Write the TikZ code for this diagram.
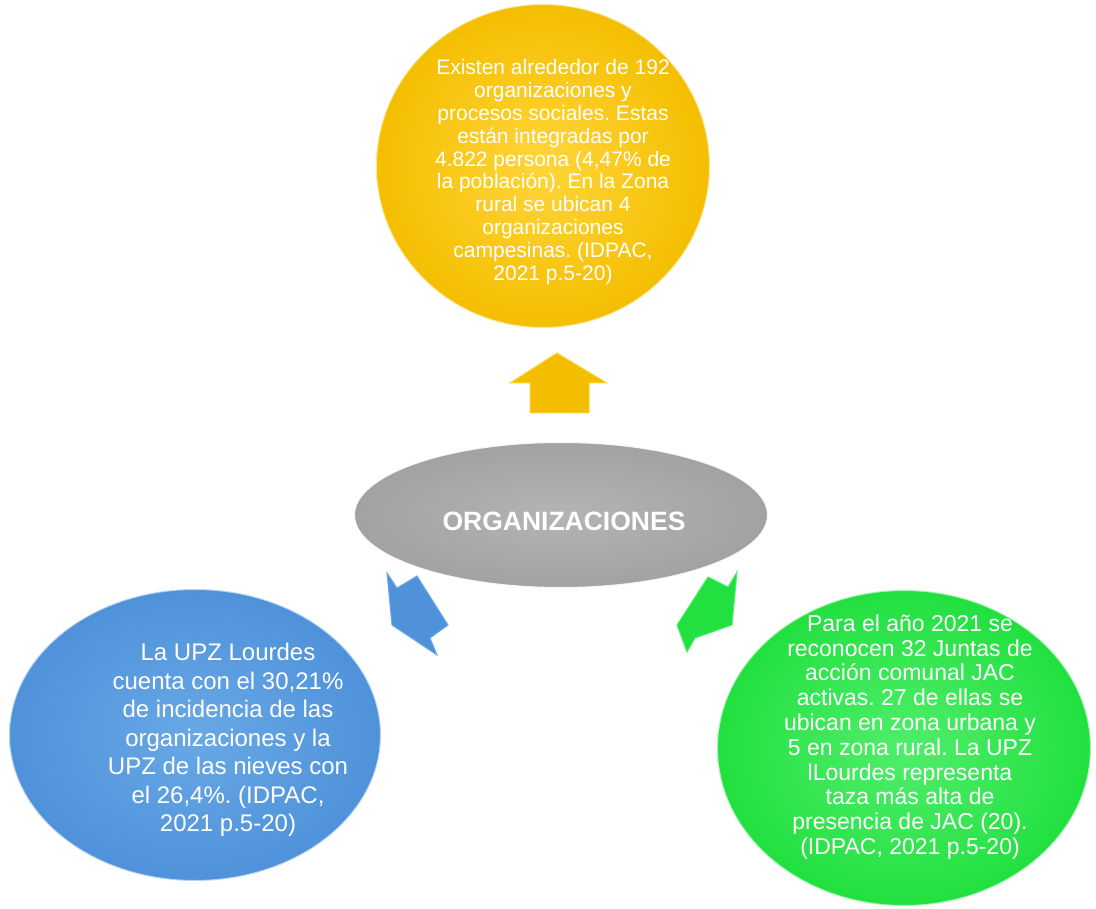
\documentclass[tikz,border=0pt]{standalone}
\usepackage{fontspec}
\setmainfont{Liberation Sans}
\usetikzlibrary{shapes.geometric}
\definecolor{yel}{HTML}{F4BE00}
\definecolor{yellight}{HTML}{FFD53A}
\definecolor{blu}{HTML}{4F92DA}
\definecolor{blulight}{HTML}{68A8E6}
\definecolor{grn}{HTML}{22E040}
\definecolor{grnlight}{HTML}{50EE6A}
\definecolor{gry}{HTML}{A2A2A2}
\definecolor{grylight}{HTML}{B4B4B4}
\tikzset{
  ball/.style={ellipse, inner sep=0pt, draw=white, draw opacity=0.6, line width=2pt},
  txt/.style={text=white, align=center, inner sep=0pt},
}
\frenchspacing
\begin{document}
\begin{tikzpicture}[x=1pt,y=-1pt]
\useasboundingbox (0,0) rectangle (1096,909);
% yellow
\node[ball, minimum width=334pt, minimum height=324pt, inner color=yellight, outer color=yel] (top) at (543,166) {};
\node[txt, font=\fontsize{21}{22.8}\selectfont] (toptxt) at (553,172) {Existen alrededor de 192\\organizaciones y\\procesos sociales. Estas\\están integradas por\\4.822 persona (4,47\% de\\la población). En la Zona\\rural se ubican 4\\organizaciones\\campesinas. (IDPAC,\\2021 p.5-20)};
% blue
\node[ball, minimum width=372pt, minimum height=292pt, inner color=blulight, outer color=blu] (left) at (195,735) {};
\node[txt, font=\fontsize{24}{28.5}\selectfont] (lefttxt) at (228,740) {La UPZ Lourdes\\cuenta con el 30,21\%\\de incidencia de las\\organizaciones y la\\UPZ de las nieves con\\el 26,4\%. (IDPAC,\\2021 p.5-20)};
% green
\node[ball, minimum width=374pt, minimum height=316pt, inner color=grnlight, outer color=grn] (right) at (904,748) {};
\node[txt, font=\fontsize{23}{24.8}\selectfont] (righttxt) at (910,737) {Para el año 2021 se\\reconocen 32 Juntas de\\acción comunal JAC\\activas. 27 de ellas se\\ubican en zona urbana y\\5 en zona rural. La UPZ\\lLourdes representa\\taza más alta de\\presencia de JAC (20).\\(IDPAC, 2021 p.5-20)};
% arrows
\fill[yel, draw=yellight, line width=1pt] (557,353) -- (607,383) -- (589,383) -- (589,413) -- (530,413) -- (530,383) -- (510,383) -- cycle;
\fill[blu, draw=blulight, line width=1pt] (387,573) -- (397,588) -- (417,576) -- (448,625) -- (430,638) -- (437,655) -- (392,625) -- cycle;
\fill[grn, draw=grnlight, line width=1pt] (708,577) -- (728,587) -- (737,572) -- (732,625) -- (695,638) -- (687,652) -- (677,625) -- cycle;
% center
\node[ball, minimum width=414pt, minimum height=146pt, inner color=grylight, outer color=gry, draw opacity=0.9] (center) at (561,515) {};
\node[txt, font=\fontsize{26.5}{30}\selectfont\bfseries] (centertxt) at (564,521) {ORGANIZACIONES};
\end{tikzpicture}
\end{document}
